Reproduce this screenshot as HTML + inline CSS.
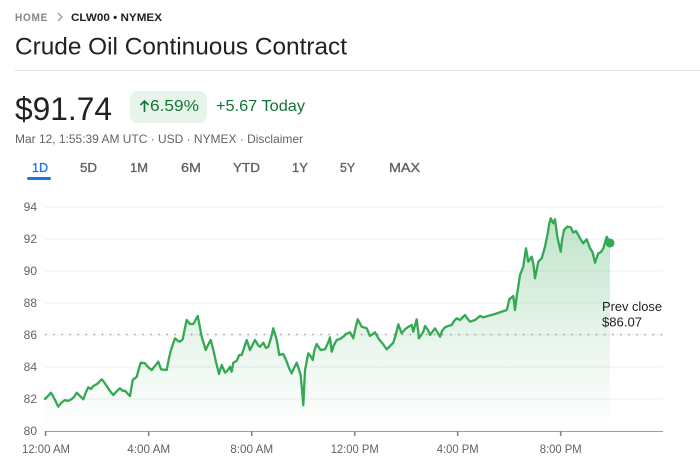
<!DOCTYPE html>
<html><head><meta charset="utf-8"><style>
html,body{margin:0;padding:0;background:#fff;width:700px;height:471px;overflow:hidden}
svg{display:block}
text{font-family:"Liberation Sans",Arial,sans-serif}
</style></head><body>
<svg width="700" height="471" viewBox="0 0 700 471" xmlns="http://www.w3.org/2000/svg">
<defs>
<linearGradient id="g" gradientUnits="userSpaceOnUse" x1="0" y1="215" x2="0" y2="431">
<stop offset="0" stop-color="#34a853" stop-opacity="0.32"/>
<stop offset="0.55" stop-color="#34a853" stop-opacity="0.12"/>
<stop offset="1" stop-color="#34a853" stop-opacity="0.0"/>
</linearGradient>
</defs>
<rect width="700" height="471" fill="#fff"/>
<!-- breadcrumb -->
<text x="15" y="21" font-size="11" fill="#80868b" font-weight="bold" letter-spacing="0.8" textLength="33" lengthAdjust="spacingAndGlyphs">HOME</text>
<path d="M58 13 L62 17 L58 21" fill="none" stroke="#9aa0a6" stroke-width="1.3"/>
<text x="71" y="21" font-size="11" fill="#202124" font-weight="bold" textLength="91" lengthAdjust="spacingAndGlyphs">CLW00 • NYMEX</text>
<!-- title -->
<text x="15" y="54.5" font-size="24" fill="#202124" textLength="332" lengthAdjust="spacingAndGlyphs">Crude Oil Continuous Contract</text>
<rect x="15" y="70" width="685" height="1" fill="#e0e0e0"/>
<!-- price -->
<text x="15" y="120" font-size="32" fill="#202124" textLength="97" lengthAdjust="spacingAndGlyphs">$91.74</text>
<rect x="130" y="91" width="77" height="32" rx="8" fill="#e6f4ea"/>
<path d="M144.5 112 L144.5 101 M140.5 105 L144.5 101 L148.5 105" fill="none" stroke="#137333" stroke-width="1.6"/>
<text x="150" y="111" font-size="15.5" fill="#137333" textLength="49" lengthAdjust="spacingAndGlyphs">6.59%</text>
<text x="216" y="111" font-size="15.5" fill="#137333" textLength="89" lengthAdjust="spacingAndGlyphs">+5.67 Today</text>
<text x="15" y="143" font-size="12" fill="#5f6368" textLength="288" lengthAdjust="spacingAndGlyphs">Mar 12, 1:55:39 AM UTC · USD · NYMEX · Disclaimer</text>
<!-- tabs -->
<g font-size="13" fill="#5f6368" stroke="#5f6368" stroke-width="0.35">
<text x="32" y="172" fill="#1a73e8" stroke="#1a73e8" textLength="16" lengthAdjust="spacingAndGlyphs">1D</text>
<text x="80" y="172" textLength="17" lengthAdjust="spacingAndGlyphs">5D</text>
<text x="130" y="172" textLength="18" lengthAdjust="spacingAndGlyphs">1M</text>
<text x="181" y="172" textLength="20" lengthAdjust="spacingAndGlyphs">6M</text>
<text x="233" y="172" textLength="27" lengthAdjust="spacingAndGlyphs">YTD</text>
<text x="292" y="172">1Y</text>
<text x="340" y="172" textLength="15" lengthAdjust="spacingAndGlyphs">5Y</text>
<text x="389" y="172" textLength="31" lengthAdjust="spacingAndGlyphs">MAX</text>
</g>
<rect x="27" y="177" width="24" height="3" rx="1.5" fill="#1a73e8"/>
<!-- grid -->
<g fill="#eeeff1">
<rect x="45" y="206.5" width="618" height="1"/>
<rect x="45" y="238.5" width="618" height="1"/>
<rect x="45" y="270.5" width="618" height="1"/>
<rect x="45" y="302.5" width="618" height="1"/>
<rect x="45" y="334.5" width="618" height="1"/>
<rect x="45" y="366.5" width="618" height="1"/>
<rect x="45" y="398.5" width="618" height="1"/>
</g>
<g font-size="12" fill="#5f6368" text-anchor="end">
<text x="37" y="211">94</text>
<text x="37" y="243">92</text>
<text x="37" y="275">90</text>
<text x="37" y="307">88</text>
<text x="37" y="339">86</text>
<text x="37" y="371">84</text>
<text x="37" y="403">82</text>
<text x="37" y="435">80</text>
</g>
<!-- fill & line -->
<polygon fill="url(#g)" points="45,399 48,396 51,392.7 54,398 58.3,406.7 61,403 65,400 68,401 71.7,399 74,397 76.7,392.7 80,396 83.3,399.3 86,392 88.3,387.3 91,389 93.3,386 97,384 101.7,379.3 104,382 106.7,386 110,391 113.3,395 117,391 120,388.3 123,391 125,390.7 128,394 130,396 132.7,380 136.7,376.7 138.5,370 140.7,362.7 145,363.3 148,367 151.7,370 155,366 158.3,361.7 161,369.3 166.7,370 169,358 171,350 173,344 175,338.3 178,341 180,341.7 182.7,339.3 184.5,330 186.7,320 190,324 193.3,324 195.5,320 197.7,316 199.5,325 201.7,336.7 205.7,350 208,345 210.7,340 213.3,350 216,362 219,374 221.7,365 225,372.7 228,370 230,366.7 231.7,371.7 233.3,362.7 236.7,360.7 239.3,355 241.7,355 244,348 246.7,340 250,350 252.5,345 255,340 258,345 260,346.7 263.3,342.7 266,348 268.3,346.7 271,338 273.3,328.3 276.7,340 279.3,355 283.3,354 286.7,361.7 289,368 291.7,373.3 294,368 296.7,362.7 298.5,368 300.7,375 302,390 303.3,405.3 305,370 308.3,353.3 310.5,356 312.7,360 314.5,350 316.7,344 320.7,350 325,349.3 328,343 330,337.3 331.7,351.7 334,345 336.7,340 340,339 343.3,336.7 346,334 350,332.3 353.3,338.3 355.5,328 357.7,319.3 361.7,326.7 366.7,328.3 370,336 375,332.3 379,339.3 383,344 386.7,349.3 390,346 393.3,342.7 396,334 398.3,324.3 401.7,333.3 405,329.3 408,327 411.7,325 413.3,331.7 416.7,319.3 419,338.3 423.3,331.7 425,326 428,330 430,335 435,328.3 440,336.7 442,331 445,327.3 448,326 451.7,325 454,321 456.7,318.3 460,320 462,318 465,315 467,318 470,321.7 475,320 480,316 483.3,317.3 495,314 506.7,310 508,305 509.3,299.3 513.3,296 515,310 516.7,296.7 518.5,285 520,275 523.3,266.7 524.5,258 526,248.3 528.3,261.7 531.7,256.7 533.5,265 535,278.3 538.3,261.7 541.7,258.3 545,246.7 547.7,233.3 549,225 550.7,218.3 553.3,223.3 555,219.3 557.3,236.7 560.7,251.7 562,240 564,230 567.3,226.7 570.7,227.3 573.3,232.7 576,231 578.3,235 581,240 583.3,243.3 586.7,239.3 590,248.3 592.5,252 595,262.7 598.3,253.3 601,252 603.3,248.3 606.7,236.7 610,243.3 610,431 45,431"/>
<line x1="45" y1="334.5" x2="663" y2="334.5" stroke="#9aa0a6" stroke-width="1.5" stroke-dasharray="1.5 6.6"/>
<polyline fill="none" stroke="#34a853" stroke-width="2.3" stroke-linejoin="round" stroke-linecap="round" points="45,399 48,396 51,392.7 54,398 58.3,406.7 61,403 65,400 68,401 71.7,399 74,397 76.7,392.7 80,396 83.3,399.3 86,392 88.3,387.3 91,389 93.3,386 97,384 101.7,379.3 104,382 106.7,386 110,391 113.3,395 117,391 120,388.3 123,391 125,390.7 128,394 130,396 132.7,380 136.7,376.7 138.5,370 140.7,362.7 145,363.3 148,367 151.7,370 155,366 158.3,361.7 161,369.3 166.7,370 169,358 171,350 173,344 175,338.3 178,341 180,341.7 182.7,339.3 184.5,330 186.7,320 190,324 193.3,324 195.5,320 197.7,316 199.5,325 201.7,336.7 205.7,350 208,345 210.7,340 213.3,350 216,362 219,374 221.7,365 225,372.7 228,370 230,366.7 231.7,371.7 233.3,362.7 236.7,360.7 239.3,355 241.7,355 244,348 246.7,340 250,350 252.5,345 255,340 258,345 260,346.7 263.3,342.7 266,348 268.3,346.7 271,338 273.3,328.3 276.7,340 279.3,355 283.3,354 286.7,361.7 289,368 291.7,373.3 294,368 296.7,362.7 298.5,368 300.7,375 302,390 303.3,405.3 305,370 308.3,353.3 310.5,356 312.7,360 314.5,350 316.7,344 320.7,350 325,349.3 328,343 330,337.3 331.7,351.7 334,345 336.7,340 340,339 343.3,336.7 346,334 350,332.3 353.3,338.3 355.5,328 357.7,319.3 361.7,326.7 366.7,328.3 370,336 375,332.3 379,339.3 383,344 386.7,349.3 390,346 393.3,342.7 396,334 398.3,324.3 401.7,333.3 405,329.3 408,327 411.7,325 413.3,331.7 416.7,319.3 419,338.3 423.3,331.7 425,326 428,330 430,335 435,328.3 440,336.7 442,331 445,327.3 448,326 451.7,325 454,321 456.7,318.3 460,320 462,318 465,315 467,318 470,321.7 475,320 480,316 483.3,317.3 495,314 506.7,310 508,305 509.3,299.3 513.3,296 515,310 516.7,296.7 518.5,285 520,275 523.3,266.7 524.5,258 526,248.3 528.3,261.7 531.7,256.7 533.5,265 535,278.3 538.3,261.7 541.7,258.3 545,246.7 547.7,233.3 549,225 550.7,218.3 553.3,223.3 555,219.3 557.3,236.7 560.7,251.7 562,240 564,230 567.3,226.7 570.7,227.3 573.3,232.7 576,231 578.3,235 581,240 583.3,243.3 586.7,239.3 590,248.3 592.5,252 595,262.7 598.3,253.3 601,252 603.3,248.3 606.7,236.7 610,243.3"/>
<circle cx="610" cy="243" r="4.5" fill="#34a853"/>
<!-- prev close label -->
<text x="602" y="311" font-size="12.5" fill="#202124" textLength="60" lengthAdjust="spacingAndGlyphs">Prev close</text>
<text x="602" y="326.5" font-size="12.5" fill="#202124" textLength="40" lengthAdjust="spacingAndGlyphs">$86.07</text>
<!-- x axis -->
<rect x="45" y="431" width="618" height="1" fill="#9aa0a6"/>
<g fill="#80868b">
<rect x="44.8" y="431" width="1.6" height="5"/>
<rect x="147.9" y="431" width="1.6" height="5"/>
<rect x="250.9" y="431" width="1.6" height="5"/>
<rect x="353.9" y="431" width="1.6" height="5"/>
<rect x="456.9" y="431" width="1.6" height="5"/>
<rect x="559.9" y="431" width="1.6" height="5"/>
</g>
<g font-size="12" fill="#5f6368" text-anchor="middle">
<text x="46" y="453" textLength="48" lengthAdjust="spacingAndGlyphs">12:00 AM</text>
<text x="148.7" y="453" textLength="43" lengthAdjust="spacingAndGlyphs">4:00 AM</text>
<text x="251.7" y="453" textLength="43" lengthAdjust="spacingAndGlyphs">8:00 AM</text>
<text x="354.7" y="453" textLength="48" lengthAdjust="spacingAndGlyphs">12:00 PM</text>
<text x="457.7" y="453" textLength="42" lengthAdjust="spacingAndGlyphs">4:00 PM</text>
<text x="560.7" y="453" textLength="42" lengthAdjust="spacingAndGlyphs">8:00 PM</text>
</g>
</svg>
</body></html>
